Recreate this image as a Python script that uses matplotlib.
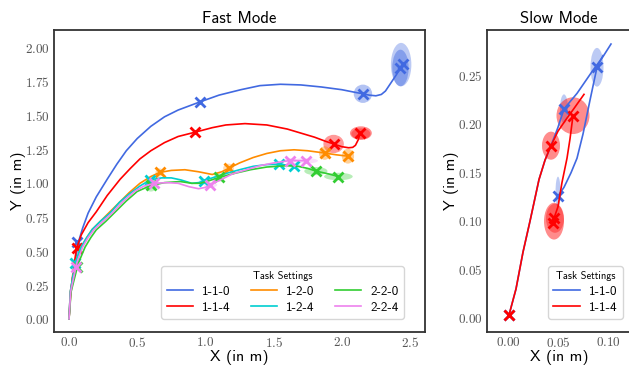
import os
import matplotlib
matplotlib.use('Agg')
import matplotlib.pyplot as plt
from matplotlib import font_manager
from matplotlib.patches import Ellipse
from matplotlib.ticker import FuncFormatter

# Computer Modern Sans ships with matplotlib
font_manager.fontManager.addfont(os.path.join(matplotlib.get_data_path(), 'fonts', 'ttf', 'cmss10.ttf'))
SANS = ['cmss10', 'DejaVu Sans']

# ---- Fast mode trajectories (x, y in m) ----
fast_paths = {
    '1-1-0': ([0, 0.01, 0.04, 0.07, 0.10, 0.14, 0.20, 0.28, 0.35, 0.42, 0.50, 0.60, 0.70, 0.80, 0.96, 1.10, 1.26, 1.40, 1.55, 1.70, 1.85, 2.00, 2.10, 2.155, 2.20, 2.25, 2.29, 2.32, 2.36, 2.40, 2.43, 2.45],
              [0, 0.20, 0.39, 0.57, 0.67, 0.78, 0.90, 1.03, 1.14, 1.24, 1.33, 1.42, 1.49, 1.54, 1.60, 1.65, 1.69, 1.72, 1.73, 1.725, 1.71, 1.69, 1.67, 1.66, 1.65, 1.645, 1.655, 1.68, 1.74, 1.80, 1.85, 1.88]),
    '1-1-4': ([0, 0.01, 0.03, 0.055, 0.09, 0.14, 0.20, 0.28, 0.375, 0.45, 0.52, 0.60, 0.70, 0.80, 0.925, 1.05, 1.15, 1.29, 1.45, 1.60, 1.70, 1.80, 1.88, 1.94, 2.00, 2.05, 2.08, 2.10, 2.12, 2.135],
              [0, 0.15, 0.35, 0.52, 0.62, 0.71, 0.79, 0.91, 1.03, 1.11, 1.18, 1.24, 1.30, 1.345, 1.377, 1.41, 1.43, 1.44, 1.43, 1.40, 1.37, 1.34, 1.31, 1.29, 1.27, 1.262, 1.265, 1.28, 1.32, 1.37]),
    '1-2-0': ([0, 0.01, 0.044, 0.088, 0.13, 0.17, 0.23, 0.30, 0.37, 0.44, 0.52, 0.60, 0.664, 0.75, 0.85, 0.95, 1.05, 1.12, 1.17, 1.25, 1.35, 1.45, 1.55, 1.65, 1.75, 1.875, 1.96, 2.045],
              [0, 0.20, 0.41, 0.53, 0.60, 0.66, 0.72, 0.79, 0.86, 0.93, 1.00, 1.05, 1.08, 1.095, 1.10, 1.085, 1.065, 1.085, 1.11, 1.15, 1.19, 1.22, 1.24, 1.247, 1.24, 1.223, 1.21, 1.20]),
    '1-2-4': ([0, 0.01, 0.044, 0.088, 0.13, 0.17, 0.23, 0.30, 0.37, 0.44, 0.52, 0.596, 0.68, 0.75, 0.82, 0.90, 0.95, 0.987, 1.05, 1.16, 1.25, 1.35, 1.45, 1.54, 1.65],
              [0, 0.20, 0.41, 0.53, 0.60, 0.66, 0.72, 0.78, 0.86, 0.92, 0.98, 1.026, 1.04, 1.04, 1.025, 1.00, 1.005, 1.018, 1.04, 1.075, 1.10, 1.125, 1.138, 1.14, 1.13]),
    '2-2-0': ([0, 0.015, 0.068, 0.118, 0.16, 0.20, 0.27, 0.34, 0.42, 0.50, 0.60, 0.70, 0.816, 0.90, 0.96, 1.03, 1.10, 1.20, 1.33, 1.45, 1.60, 1.68, 1.75, 1.81, 1.90, 1.975],
              [0, 0.20, 0.41, 0.53, 0.60, 0.657, 0.72, 0.79, 0.87, 0.94, 0.984, 1.005, 1.013, 1.00, 1.00, 1.02, 1.043, 1.07, 1.10, 1.12, 1.13, 1.125, 1.11, 1.09, 1.07, 1.05]),
    '2-2-4': ([0, 0.012, 0.056, 0.10, 0.14, 0.185, 0.25, 0.32, 0.40, 0.48, 0.55, 0.625, 0.72, 0.80, 0.88, 0.95, 1.00, 1.037, 1.10, 1.20, 1.30, 1.40, 1.50, 1.62, 1.735],
              [0, 0.20, 0.41, 0.53, 0.60, 0.66, 0.72, 0.785, 0.87, 0.94, 0.98, 1.00, 1.005, 1.00, 0.975, 0.96, 0.97, 0.989, 1.02, 1.07, 1.10, 1.13, 1.15, 1.168, 1.166]),
}
fast_markers = {
    '1-1-0': ([0.06, 0.96, 2.155, 2.43, 2.45], [0.565, 1.60, 1.66, 1.85, 1.88]),
    '1-1-4': ([0.055, 0.925, 1.94, 2.135], [0.52, 1.377, 1.29, 1.37]),
    '1-2-0': ([0.664, 1.17, 1.875, 2.045], [1.08, 1.11, 1.223, 1.203]),
    '1-2-4': ([0.044, 0.596, 0.987, 1.54, 1.65], [0.41, 1.026, 1.018, 1.14, 1.13]),
    '2-2-0': ([0.056, 0.60, 1.10, 1.81, 1.975], [0.386, 0.984, 1.043, 1.09, 1.05]),
    '2-2-4': ([0.05, 0.625, 1.037, 1.62, 1.735], [0.386, 1.00, 0.989, 1.168, 1.166]),
}
# ellipses: (x, y, width, height, alpha)
fast_ellipses = {
    '1-1-0': [(2.155, 1.66, 0.135, 0.135, 0.4), (2.435, 1.875, 0.15, 0.32, 0.35), (2.43, 1.85, 0.12, 0.27, 0.45)],
    '1-1-4': [(1.94, 1.29, 0.15, 0.135, 0.4), (2.14, 1.37, 0.16, 0.10, 0.45), (2.14, 1.365, 0.14, 0.08, 0.35)],
    '1-2-0': [(0.664, 1.08, 0.06, 0.06, 0.3), (1.17, 1.11, 0.08, 0.07, 0.3), (1.875, 1.223, 0.085, 0.10, 0.4), (2.045, 1.20, 0.09, 0.11, 0.4)],
    '1-2-4': [(0.596, 1.026, 0.05, 0.04, 0.25), (0.987, 1.018, 0.06, 0.03, 0.25), (1.54, 1.14, 0.08, 0.03, 0.25), (1.65, 1.13, 0.10, 0.03, 0.25)],
    '2-2-0': [(0.60, 0.984, 0.09, 0.09, 0.3), (1.10, 1.043, 0.08, 0.06, 0.3), (1.81, 1.09, 0.17, 0.06, 0.35), (1.975, 1.05, 0.21, 0.055, 0.35)],
    '2-2-4': [(0.625, 1.00, 0.07, 0.04, 0.25), (1.037, 0.989, 0.10, 0.04, 0.25), (1.62, 1.168, 0.10, 0.035, 0.25), (1.735, 1.166, 0.18, 0.04, 0.25)],
}

# ---- Slow mode trajectories ----
slow_paths = {
    '1-1-0': [([0.001, 0.008, 0.015, 0.022, 0.031, 0.037, 0.043, 0.050, 0.056, 0.069, 0.085, 0.095, 0.103],
               [0.003, 0.030, 0.068, 0.100, 0.143, 0.163, 0.178, 0.197, 0.216, 0.232, 0.256, 0.270, 0.283]),
              ([0.050, 0.056, 0.063, 0.069, 0.075, 0.082, 0.089, 0.095],
               [0.126, 0.135, 0.150, 0.165, 0.190, 0.225, 0.259, 0.271])],
    '1-1-4': [([0.001, 0.008, 0.015, 0.022, 0.031, 0.037, 0.043, 0.050, 0.058, 0.065, 0.076],
               [0.003, 0.030, 0.068, 0.100, 0.143, 0.163, 0.178, 0.193, 0.205, 0.215, 0.231]),
              ([0.045, 0.050, 0.054, 0.059, 0.062, 0.065],
               [0.100, 0.115, 0.140, 0.165, 0.185, 0.209])],
}
slow_markers = {
    '1-1-0': ([0.001, 0.050, 0.056, 0.089], [0.003, 0.126, 0.216, 0.259]),
    '1-1-4': ([0.001, 0.045, 0.046, 0.043, 0.065], [0.003, 0.098, 0.103, 0.178, 0.209]),
}
slow_ellipses = {
    '1-1-0': [(0.050, 0.130, 0.005, 0.032, 0.35), (0.056, 0.216, 0.008, 0.030, 0.35), (0.089, 0.259, 0.013, 0.040, 0.35)],
    '1-1-4': [(0.046, 0.100, 0.020, 0.038, 0.45), (0.047, 0.103, 0.018, 0.030, 0.35), (0.043, 0.178, 0.018, 0.029, 0.45), (0.065, 0.209, 0.033, 0.038, 0.45)],
}

colors = {'1-1-0': 'royalblue', '1-1-4': 'red', '1-2-0': 'darkorange',
          '1-2-4': 'darkturquoise', '2-2-0': 'limegreen', '2-2-4': 'violet'}

plt.rcParams['mathtext.fontset'] = 'cm'
tick_fmt2 = FuncFormatter(lambda v, p: f'${v:.2f}$')
tick_fmt1 = FuncFormatter(lambda v, p: f'${v:.1f}$')

fig = plt.figure(figsize=(6.29, 3.66), dpi=100)
ax1 = fig.add_axes([54 / 629, 34 / 366, 371 / 629, 302 / 366])
ax2 = fig.add_axes([487 / 629, 34 / 366, 144 / 629, 302 / 366])


def draw(ax, name, paths, markers, ells):
    c = colors[name]
    for (x, y, w, h, a) in ells:
        ax.add_patch(Ellipse((x, y), w, h, color=c, alpha=a, lw=0))
    for i, (px, py) in enumerate(paths):
        ax.plot(px, py, color=c, lw=1.2, label=name if i == 0 else None)
    mx, my = markers
    ax.plot(mx, my, 'x', color=c, ms=6.5, mew=2, ls='none')


for name in fast_paths:
    draw(ax1, name, [fast_paths[name]], fast_markers[name], fast_ellipses[name])
for name in slow_paths:
    draw(ax2, name, slow_paths[name], slow_markers[name], slow_ellipses[name])

ax1.set_xlim(-0.11, 2.61)
ax1.set_ylim(-0.096, 2.13)
ax1.set_xticks([0, 0.5, 1.0, 1.5, 2.0, 2.5])
ax1.set_yticks([0, 0.25, 0.5, 0.75, 1.0, 1.25, 1.5, 1.75, 2.0])
ax1.xaxis.set_major_formatter(tick_fmt1)
ax1.yaxis.set_major_formatter(tick_fmt2)

ax2.set_xlim(-0.021, 0.123)
ax2.set_ylim(-0.0145, 0.2975)
ax2.set_xticks([0, 0.05, 0.10])
ax2.set_yticks([0, 0.05, 0.10, 0.15, 0.20, 0.25])
ax2.xaxis.set_major_formatter(tick_fmt2)
ax2.yaxis.set_major_formatter(tick_fmt2)

for ax, title in [(ax1, 'Fast Mode'), (ax2, 'Slow Mode')]:
    ax.set_title(title, fontsize=12, pad=5, family=SANS)
    ax.set_xlabel('X (in m)', fontsize=11.5, labelpad=0, family=SANS)
    ax.set_ylabel('Y (in m)', fontsize=11.5, labelpad=-1, family=SANS)
    ax.tick_params(labelsize=9.5, colors='#555555', length=0, pad=3)
    for s in ax.spines.values():
        s.set_color('#333333')
        s.set_linewidth(1.3)

leg_kw = dict(title='Task Settings', prop={'family': SANS, 'size': 9.5},
              title_fontproperties={'family': SANS, 'size': 7.5},
              handlelength=2.0, handletextpad=0.7, borderpad=0.4,
              labelspacing=0.3, borderaxespad=0)
ax1.legend(ncol=3, loc='lower right', bbox_to_anchor=(0.943, 0.043),
           columnspacing=1.5, **leg_kw)
ax2.legend(loc='lower left', bbox_to_anchor=(61 / 144, 0.043), **leg_kw)

fig.savefig('out.png', dpi=100)
